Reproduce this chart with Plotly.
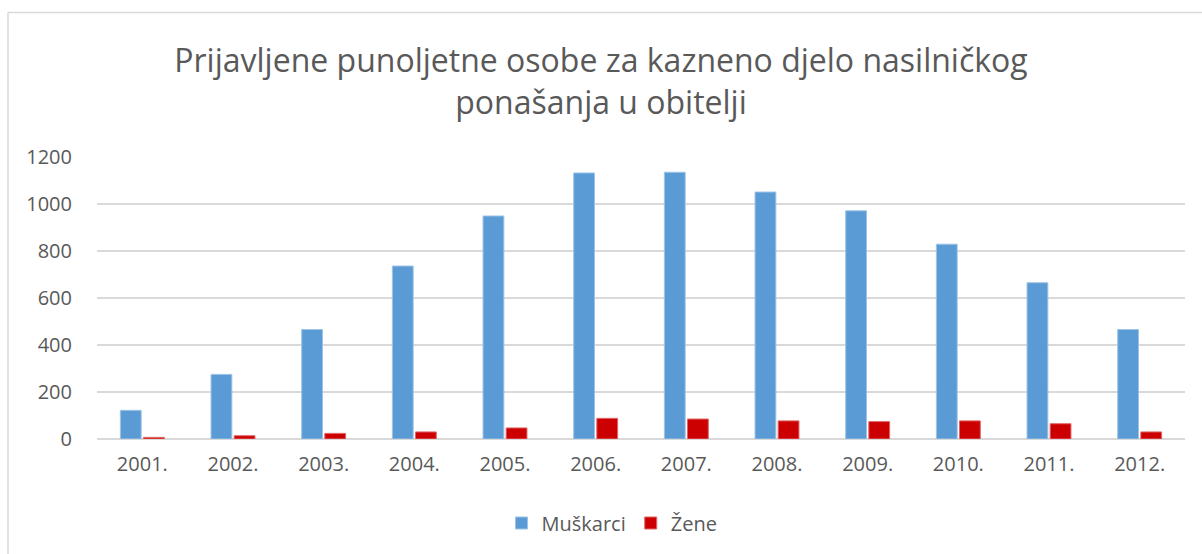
import plotly.graph_objects as go

years = ["2001.", "2002.", "2003.", "2004.", "2005.", "2006.",
         "2007.", "2008.", "2009.", "2010.", "2011.", "2012."]
muskarci = [122, 275, 466, 736, 949, 1132, 1135, 1051, 971, 829, 665, 466]
zene = [7, 14, 24, 30, 47, 88, 85, 77, 74, 77, 65, 30]
y_ticks = [0, 200, 400, 600, 800, 1000, 1200]

W, H = 1202, 554
L, R, T, B = 97, 17, 157, 115

fig = go.Figure()
fig.add_trace(go.Bar(x=years, y=muskarci, name="Muškarci",
                     marker=dict(color="#5B9BD5", line=dict(color="#9DC3E6", width=1))))
fig.add_trace(go.Bar(x=years, y=zene, name="Žene",
                     marker=dict(color="#CC0000", line=dict(color="#E06666", width=1))))

font_family = "Open Sans, Noto Sans, sans-serif"
fig.update_layout(
    width=W, height=H,
    margin=dict(l=L, r=R, t=T, b=B, pad=0),
    paper_bgcolor="white", plot_bgcolor="white",
    barmode="group", bargap=0.49, bargroupgap=0.1,
    title=dict(text="Prijavljene punoljetne osobe za kazneno djelo nasilničkog<br>ponašanja u obitelji",
               x=0.5, xanchor="center", y=1 - 72 / H, yanchor="middle",
               font=dict(family=font_family, size=32, color="#595959")),
    font=dict(family=font_family, color="#595959"),
    xaxis=dict(showgrid=False, showline=False, ticks="", tickfont=dict(size=20, color="#595959"),
               ticklabelstandoff=11),
    yaxis=dict(range=[0, 1200], tickvals=y_ticks, showgrid=True, gridcolor="#D9D9D9", gridwidth=1.5,
               zeroline=True, zerolinecolor="#D9D9D9", zerolinewidth=1.5,
               showline=False, ticks="", tickfont=dict(size=20, color="#595959"),
               ticklabelstandoff=24),
    legend=dict(orientation="h", x=0.5 - 29 / (W - L - R), xanchor="center",
                y=(439 - 523) / (H - T - B), yanchor="middle",
                font=dict(size=20, color="#595959"), itemwidth=30, traceorder="normal"),
    shapes=[
        dict(type="line", xref="paper", yref="paper",
             x0=(8 - L) / (W - L - R), x1=(W + 5 - L) / (W - L - R),
             y0=(H - B - 12.5) / (H - T - B), y1=(H - B - 12.5) / (H - T - B),
             line=dict(color="#D9D9D9", width=1.5)),
        dict(type="line", xref="paper", yref="paper",
             x0=(8 - L) / (W - L - R), x1=(8 - L) / (W - L - R),
             y0=(H - B - 12.5) / (H - T - B), y1=(H - B - H - 5) / (H - T - B),
             line=dict(color="#D9D9D9", width=1.5)),
    ],
)

fig.write_html("out.html")
